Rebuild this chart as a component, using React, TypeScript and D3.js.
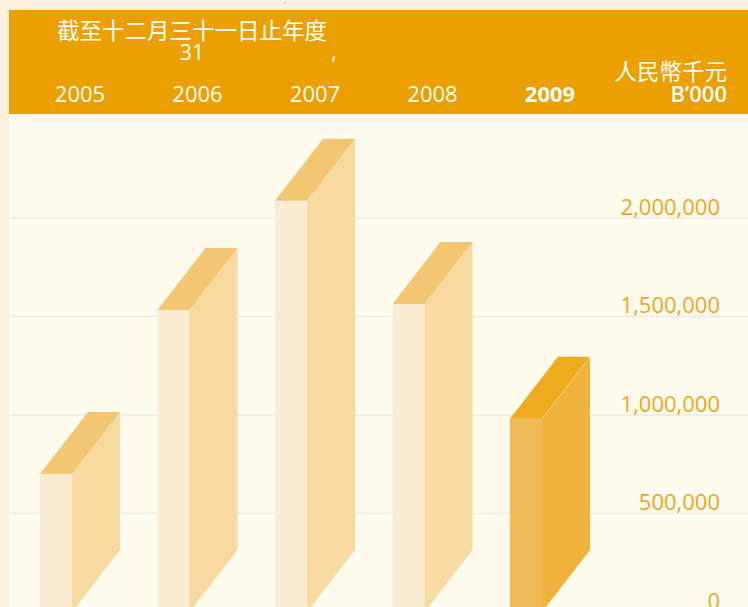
import React from "react";
import * as d3 from "d3";

const years = ["2005", "2006", "2007", "2008", "2009"];
const values = [700000, 1533000, 2087000, 1563000, 981000];
const ticks = [0, 500000, 1000000, 1500000, 2000000];
const highlightYear = "2009";
const titleText = "截至十二月三十一日止年度";
const unitText = "人民幣千元";
const unitTextEn = "B\u2019000";

const W = 748;
const H = 607;

export default function App() {
  const y = d3.scaleLinear().domain([0, 2000000]).range([612, 218]);
  const x = d3.scaleBand().domain(years).range([40, 40 + 117.5 * years.length]).padding(0);
  const fw = 32; // front width
  const dx = 48;
  const dy = -62;
  const fmt = d3.format(",");
  const numFont = "'Open Sans', 'Noto Sans', sans-serif";
  const cjkFont = "'Noto Sans CJK TC', 'Noto Sans CJK SC', sans-serif";

  return (
    <div style={{ position: "absolute", left: 0, top: 0, width: W, height: H, overflow: "hidden" }}>
      <svg width={W} height={H} style={{ display: "block" }}>
        <rect x={0} y={0} width={W} height={H} fill="#fcf1de" />
        <rect x={9} y={10} width={W - 9} height={104} fill="#eca000" />
        <rect x={9} y={114} width={W - 9} height={H - 114} fill="#fffcee" />
        <circle cx={285} cy={3} r={1} fill="#f0c890" />

        {ticks.map((t) => (
          <g key={t}>
            <line x1={9} x2={W} y1={y(t)} y2={y(t)} stroke="#eeeeea" strokeWidth={2} />
            <text
              x={720}
              y={y(t) - 3.5}
              textAnchor="end"
              fontFamily={numFont}
              fontSize={22}
              fill="#efa51c"
            >
              {fmt(t)}
            </text>
          </g>
        ))}

        {years.map((yr, i) => {
          const x0 = x(yr) as number;
          const yTop = y(values[i]);
          const yBot = y(0);
          const hi = yr === highlightYear;
          const front = hi ? "#f0ba56" : "#fbebd3";
          const side = hi ? "#efb23b" : "#f8d9a0";
          const top = hi ? "#eeab1d" : "#f3c671";
          const sidePath = `M${x0 + fw},${yTop} L${x0 + fw + dx},${yTop + dy} L${x0 + fw + dx},${yBot + dy} L${x0 + fw},${yBot} Z`;
          const topPath = `M${x0},${yTop} L${x0 + dx},${yTop + dy} L${x0 + fw + dx},${yTop + dy} L${x0 + fw},${yTop} Z`;
          return (
            <g key={yr}>
              <rect x={x0} y={yTop} width={fw} height={yBot - yTop} fill={front} />
              <path d={sidePath} fill={side} />
              <path d={topPath} fill={top} />
              {hi && (
                <line
                  x1={x0 + fw}
                  y1={yTop}
                  x2={x0 + fw + dx}
                  y2={yTop + dy}
                  stroke="#f6d9a0"
                  strokeWidth={0.6}
                />
              )}
            </g>
          );
        })}

        <text x={57} y={39} fontFamily={cjkFont} fontSize={22.5} fill="#ffffff">
          {titleText}
        </text>
        <text x={192} y={60} textAnchor="middle" fontFamily={numFont} fontSize={21.5} fill="#ffffff">
          31
        </text>
        <text x={334} y={59} textAnchor="middle" fontFamily={numFont} fontSize={21} fill="#ffffff">
          ,
        </text>
        <text x={727} y={80} textAnchor="end" fontFamily={cjkFont} fontSize={22.5} fill="#ffffff">
          {unitText}
        </text>
        <text
          x={727}
          y={102}
          textAnchor="end"
          fontFamily={numFont}
          fontSize={22}
          fontWeight={600}
          fill="#ffffff"
        >
          {unitTextEn}
        </text>
        {years.map((yr) => (
          <text
            key={yr}
            x={(x(yr) as number) + (fw + dx) / 2}
            y={102}
            textAnchor="middle"
            fontFamily={numFont}
            fontSize={22}
            fontWeight={yr === highlightYear ? 700 : 400}
            fill="#ffffff"
          >
            {yr}
          </text>
        ))}
      </svg>
    </div>
  );
}
